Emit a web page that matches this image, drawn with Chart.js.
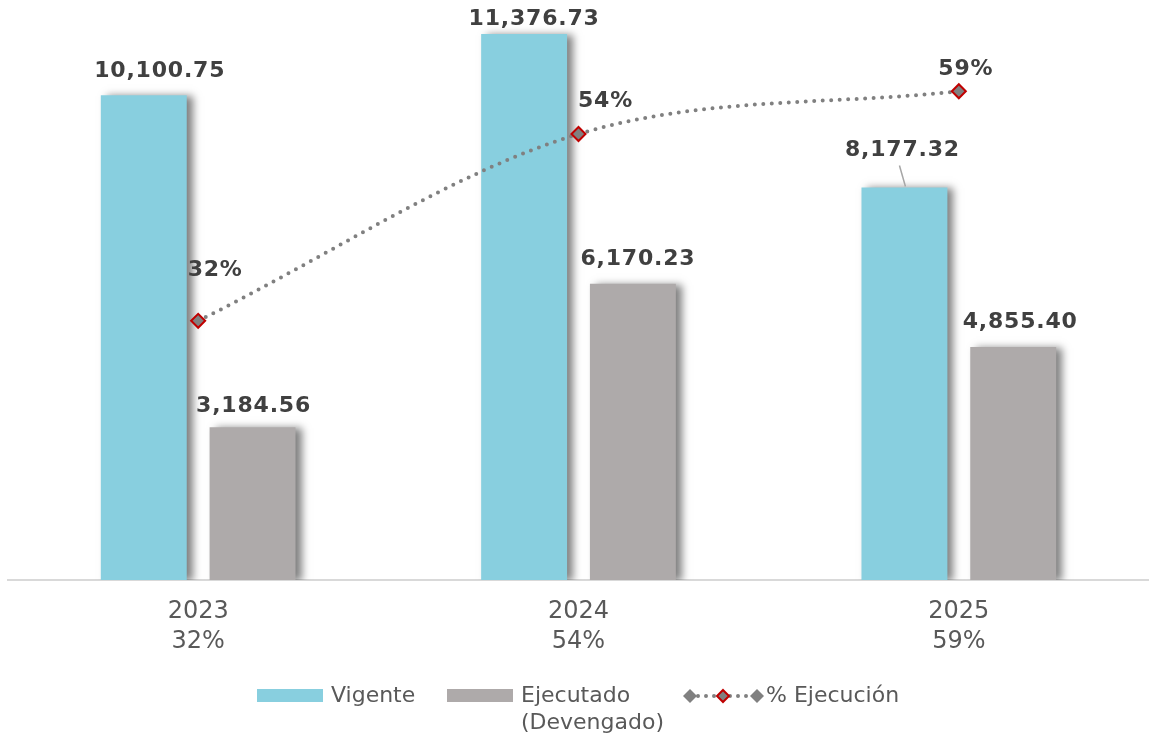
<!DOCTYPE html>
<html>
<head>
<meta charset="utf-8">
<script src="https://cdn.jsdelivr.net/npm/chart.js@4"></script>
<style>
    html, body { margin: 0; background: #fff; overflow: hidden; }
    canvas { display: block; }
</style>
</head>
<body>
<canvas id="ejecucionChart" width="1149" height="734"></canvas>
<script>
// Chart data
const years = ['2023', '2024', '2025'];
const pctLabels = ['32%', '54%', '59%'];
const vigente = [10100.75, 11376.73, 8177.32];
const ejecutado = [3184.56, 6170.23, 4855.40];
const pctEjecucion = [31.5, 54.2, 59.4];

// Label placement tweaks (dx, lift above the mark)
const barLabelOffsets = [
    [[16, 24], [10, 15], [-2, 37]],
    [[1, 21], [5, 25], [7, 25]]
];
const pctLabelOffsets = [[17, 51], [27, 33], [7, 22]];

const colVigente = '#88cfdf';
const colEjecutado = '#aeaaaa';
const colLine = '#808080';
const colMarkerBorder = '#c00000';
const textDark = '#404040';
const textGrey = '#595959';

function fmt(v) {
    return v.toLocaleString('en-US', { minimumFractionDigits: 2, maximumFractionDigits: 2 });
}

function diamond(ctx, x, y, r) {
    ctx.beginPath();
    ctx.moveTo(x, y - r);
    ctx.lineTo(x + r, y);
    ctx.lineTo(x, y + r);
    ctx.lineTo(x - r, y);
    ctx.closePath();
}

// Soft shadow to the right of each bar
const barShadow = {
    id: 'barShadow',
    beforeDatasetDraw(chart, args) {
        if (args.meta.type !== 'bar') return;
        const ctx = chart.ctx;
        ctx.save();
        ctx.shadowColor = 'rgba(0, 0, 0, 0.5)';
        ctx.shadowBlur = 8;
        ctx.shadowOffsetX = 6;
        ctx.shadowOffsetY = 1;
    },
    afterDatasetDraw(chart, args) {
        if (args.meta.type !== 'bar') return;
        chart.ctx.restore();
    }
};

// Value labels on bars and line points
const valueLabels = {
    id: 'valueLabels',
    afterDatasetsDraw(chart) {
        const ctx = chart.ctx;
        ctx.save();
        ctx.fillStyle = textDark;
        ctx.textAlign = 'center';
        ctx.textBaseline = 'middle';
        ctx.font = 'bold 22px "DejaVu Sans"';
        ctx.letterSpacing = '0.8px';

        [0, 1].forEach(function (di) {
            const meta = chart.getDatasetMeta(di);
            const values = chart.data.datasets[di].data;
            meta.data.forEach(function (bar, i) {
                const off = barLabelOffsets[di][i];
                const x = bar.x + off[0];
                const y = bar.y - off[1];
                ctx.fillText(fmt(values[i]), x, y);
                if (off[1] > 30) {
                    // leader line for lifted label
                    ctx.save();
                    ctx.strokeStyle = '#a6a6a6';
                    ctx.lineWidth = 1.5;
                    ctx.beginPath();
                    ctx.moveTo(x - 3, y + 15);
                    ctx.lineTo(bar.x + 1, bar.y - 1);
                    ctx.stroke();
                    ctx.restore();
                }
            });
        });

        const lineMeta = chart.getDatasetMeta(2);
        lineMeta.data.forEach(function (pt, i) {
            const off = pctLabelOffsets[i];
            ctx.fillText(Math.round(pctEjecucion[i]) + '%', pt.x + off[0], pt.y - off[1]);
        });
        ctx.restore();
    }
};

// Legend drawn under the axis labels
const legendBox = {
    id: 'legendBox',
    afterDraw(chart) {
        const ctx = chart.ctx;
        const y = chart.chartArea.bottom + 116;
        const ds = chart.data.datasets;
        ctx.save();
        ctx.font = '22px "DejaVu Sans"';
        ctx.textBaseline = 'middle';
        ctx.textAlign = 'left';

        // Vigente
        ctx.fillStyle = ds[0].backgroundColor;
        ctx.fillRect(257, y - 7, 66, 13);
        ctx.fillStyle = textGrey;
        ctx.fillText(ds[0].label, 331, y);

        // Ejecutado (Devengado)
        ctx.fillStyle = ds[1].backgroundColor;
        ctx.fillRect(447, y - 7, 66, 13);
        ctx.fillStyle = textGrey;
        ctx.fillText('Ejecutado', 521, y);
        ctx.fillText('(Devengado)', 521, y + 27);

        // % Ejecución
        ctx.strokeStyle = colLine;
        ctx.lineWidth = 4;
        ctx.lineCap = 'round';
        ctx.setLineDash([0, 8]);
        ctx.beginPath();
        ctx.moveTo(690, y);
        ctx.lineTo(757, y);
        ctx.stroke();
        ctx.setLineDash([]);
        ctx.fillStyle = colLine;
        diamond(ctx, 690, y, 7); ctx.fill();
        diamond(ctx, 757, y, 7); ctx.fill();
        diamond(ctx, 723, y, 6);
        ctx.fillStyle = colLine; ctx.fill();
        ctx.strokeStyle = colMarkerBorder; ctx.lineWidth = 2; ctx.stroke();
        ctx.fillStyle = textGrey;
        ctx.fillText(ds[2].label, 766, y);
        ctx.restore();
    }
};

const ctx = document.getElementById('ejecucionChart').getContext('2d');

new Chart(ctx, {
    data: {
        labels: years.map(function (y, i) { return [y, pctLabels[i]]; }),
        datasets: [
            {
                type: 'bar',
                label: 'Vigente',
                data: vigente,
                backgroundColor: colVigente,
                barPercentage: 0.79,
                categoryPercentage: 0.572,
                yAxisID: 'y',
                order: 1
            },
            {
                type: 'bar',
                label: 'Ejecutado (Devengado)',
                data: ejecutado,
                backgroundColor: colEjecutado,
                barPercentage: 0.79,
                categoryPercentage: 0.572,
                yAxisID: 'y',
                order: 1
            },
            {
                type: 'line',
                label: '% Ejecución',
                data: pctEjecucion,
                yAxisID: 'y2',
                borderColor: colLine,
                borderWidth: 4,
                borderDash: [0, 8.5],
                borderCapStyle: 'round',
                cubicInterpolationMode: 'monotone',
                pointStyle: 'rectRot',
                pointRadius: 7,
                pointBackgroundColor: colLine,
                pointBorderColor: colMarkerBorder,
                pointBorderWidth: 2,
                clip: false,
                order: 0
            }
        ]
    },
    options: {
        responsive: false,
        animation: false,
        layout: { autoPadding: false, padding: { top: 4, left: 8, right: 0, bottom: 0 } },
        plugins: {
            legend: { display: false },
            tooltip: { enabled: false }
        },
        scales: {
            x: {
                grid: { display: false, drawTicks: false },
                border: { display: true, color: '#d9d9d9', width: 2 },
                ticks: {
                    color: textGrey,
                    font: { family: 'DejaVu Sans', size: 24, lineHeight: 1.25 },
                    padding: 17,
                    maxRotation: 0
                },
                afterFit: function (scale) { scale.height = 154; }
            },
            y: {
                display: false,
                min: 0,
                max: 12000
            },
            y2: {
                display: false,
                min: 0,
                max: 70
            }
        }
    },
    plugins: [barShadow, valueLabels, legendBox]
});
</script>
</body>
</html>
